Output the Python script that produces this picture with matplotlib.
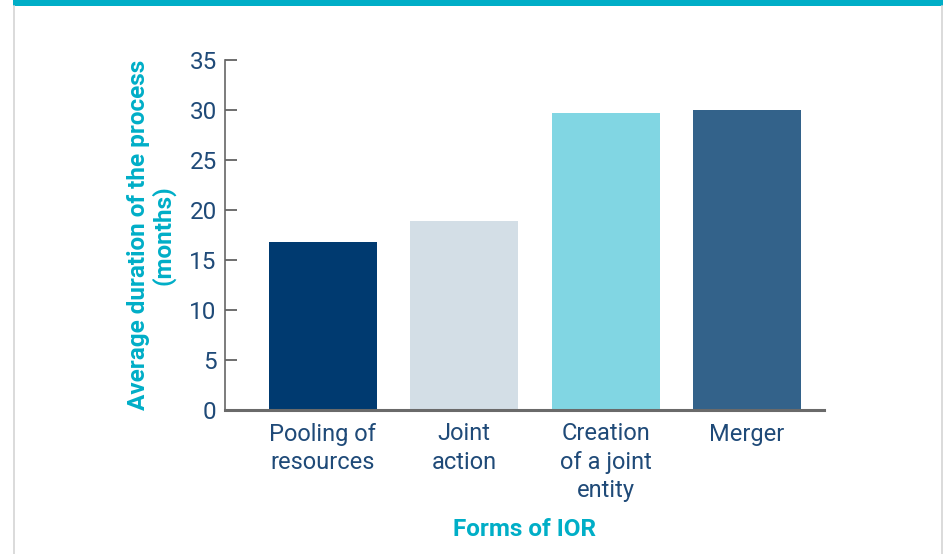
import matplotlib
matplotlib.use("Agg")
import matplotlib.pyplot as plt
from matplotlib.patches import Rectangle
from matplotlib.lines import Line2D

categories = ["Pooling of\nresources", "Joint\naction", "Creation\nof a joint\nentity", "Merger"]
values = [16.8, 18.9, 29.7, 30.0]
bar_colors = ["#003a70", "#d3dee6", "#81d6e3", "#33628a"]
yticks = [0, 5, 10, 15, 20, 25, 30, 35]
ylabel = "Average duration of the process\n(months)"
xlabel = "Forms of IOR"

plt.rcParams['font.family'] = ['Roboto', 'DejaVu Sans']

W, H = 947, 554
fig = plt.figure(figsize=(W / 100, H / 100), dpi=100)
fig.patch.set_facecolor("white")

# frame decorations
fig.patches.append(Rectangle((13 / W, 1 - 6 / H), 930 / W, 6 / H, transform=fig.transFigure,
                             facecolor="#00aec7", edgecolor="none"))
fig.lines.append(Line2D([13.5 / W, 13.5 / W], [0, 1 - 6 / H], transform=fig.transFigure,
                        color="#d4d4d4", lw=1.2))
fig.lines.append(Line2D([941.5 / W, 941.5 / W], [0, 1 - 6 / H], transform=fig.transFigure,
                        color="#d4d4d4", lw=1.2))

ax = fig.add_axes([225 / W, 144 / H, 599 / W, 350 / H])
x = list(range(len(categories)))
ax.bar(x, values, width=0.765, color=bar_colors, zorder=2)

ax.set_xlim(-0.693, 3.545)
ax.set_ylim(0, 35)
ax.set_yticks(yticks)
ax.set_yticklabels([str(t) for t in yticks])
ax.set_xticks(x)
ax.set_xticklabels(categories, color="#1f4a78", fontsize=17, linespacing=1.3)

for s in ["top", "right"]:
    ax.spines[s].set_visible(False)
ax.spines["left"].set_color("#666666")
ax.spines["left"].set_linewidth(1.2)
ax.spines["bottom"].set_color("#6a6a6a")
ax.spines["bottom"].set_linewidth(2.2)
ax.spines["bottom"].set_zorder(3)

ax.tick_params(axis="y", direction="in", length=8.6, width=1.2, color="#555555",
               labelsize=17.5, labelcolor="#1f4a78", pad=6)
ax.tick_params(axis="x", length=0, pad=9)

ax.set_ylabel(ylabel, color="#00aec7", fontsize=17.5, fontweight="bold", labelpad=10,
              linespacing=1.05)
ax.set_xlabel(xlabel, color="#00aec7", fontsize=17.5, fontweight="bold", labelpad=11)

fig.savefig("out.png", dpi=100, facecolor="white")
